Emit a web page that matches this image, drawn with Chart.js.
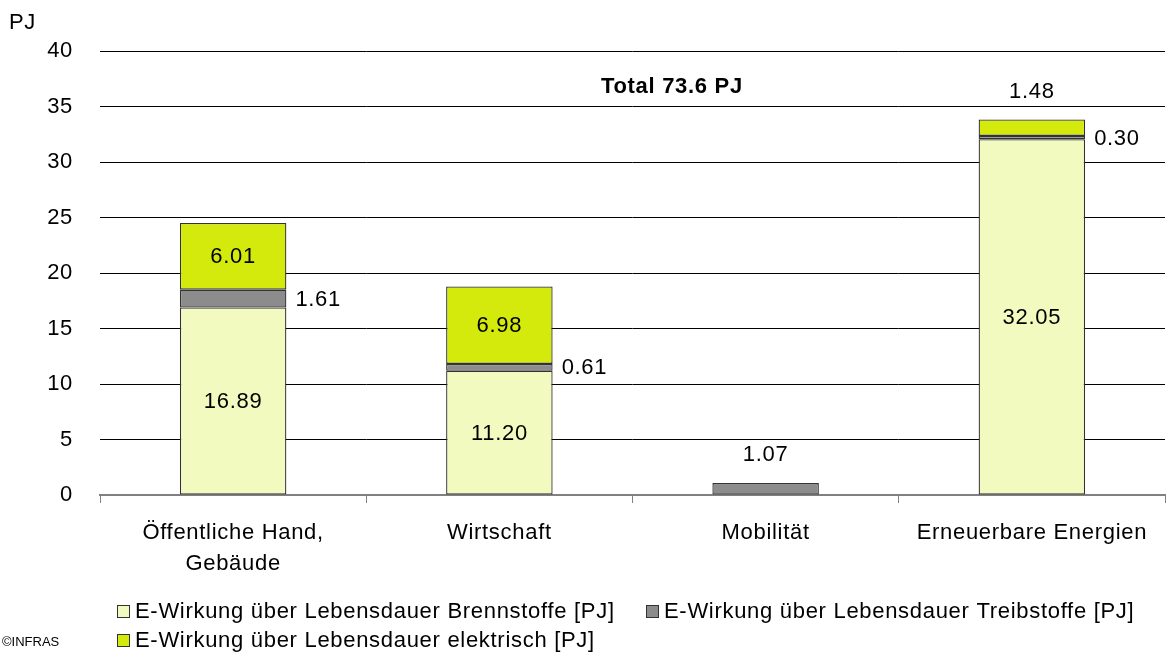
<!DOCTYPE html>
<html>
<head>
<meta charset="utf-8">
<script src="https://cdn.jsdelivr.net/npm/chart.js@4.4.1/dist/chart.umd.min.js"></script>
<style>
  html, body { margin: 0; padding: 0; background: #fff; }
  #wrap { width: 1175px; height: 657px; }
</style>
</head>
<body>
<div id="wrap"><canvas id="c" width="1175" height="657"></canvas></div>
<script>
const categories = [['Öffentliche Hand,', 'Gebäude'], 'Wirtschaft', 'Mobilität', 'Erneuerbare Energien'];
const brennstoffe = [16.89, 11.20, null, 32.05];
const treibstoffe = [1.61, 0.61, 1.07, 0.30];
const elektrisch = [6.01, 6.98, null, 1.48];
const seriesNames = [
  'E-Wirkung über Lebensdauer Brennstoffe [PJ]',
  'E-Wirkung über Lebensdauer Treibstoffe [PJ]',
  'E-Wirkung über Lebensdauer elektrisch [PJ]'
];
const yMin = 0, yMax = 40, yStep = 5;
const unitLabel = 'PJ';
const totalLabel = 'Total 73.6 PJ';
const creditLabel = '©INFRAS';

const FONT = "'Liberation Sans', Arial, sans-serif";
const SPACING = '0.7px';
const colors = ['#F2FAC0', '#8C8C8C', '#D4EA0C'];
const borderCol = '#333333';

const spacingPlugin = {
  id: 'spacing',
  beforeUpdate(chart) { chart.ctx.letterSpacing = SPACING; },
  beforeDraw(chart) { chart.ctx.letterSpacing = SPACING; }
};

const labelPlugin = {
  id: 'labels',
  afterDatasetsDraw(chart) {
    const ctx = chart.ctx;
    ctx.save();
    ctx.letterSpacing = SPACING;
    ctx.font = '22px ' + FONT;
    ctx.fillStyle = '#000';
    const n = chart.data.labels.length;
    for (let j = 0; j < n; j++) {
      let topIdx = -1;
      chart.data.datasets.forEach((ds, i) => { if (ds.data[j] != null) topIdx = i; });
      chart.data.datasets.forEach((ds, i) => {
        const v = ds.data[j];
        if (v == null) return;
        const el = chart.getDatasetMeta(i).data[j];
        const mid = (el.y + el.base) / 2;
        const txt = v.toFixed(2);
        if (v >= 3) {
          ctx.textAlign = 'center'; ctx.textBaseline = 'middle';
          ctx.fillText(txt, el.x, mid + 1);
        } else if (i === topIdx) {
          ctx.textAlign = 'center'; ctx.textBaseline = 'middle';
          ctx.fillText(txt, el.x, el.y - 28);
        } else {
          const x = el.x + el.width / 2 + 9;
          const w = ctx.measureText(txt).width;
          ctx.fillStyle = '#fff';
          ctx.fillRect(x - 3, mid - 12, w + 8, 24);
          ctx.fillStyle = '#000';
          ctx.textAlign = 'left'; ctx.textBaseline = 'middle';
          ctx.fillText(txt, x, mid + 1);
        }
      });
    }
    ctx.restore();
  }
};

const extrasPlugin = {
  id: 'extras',
  afterDraw(chart) {
    const ctx = chart.ctx;
    const ca = chart.chartArea;
    const ys = chart.scales.y;
    ctx.save();
    ctx.letterSpacing = SPACING;
    ctx.fillStyle = '#000';
    ctx.textBaseline = 'middle';
    ctx.font = '22px ' + FONT;
    ctx.textAlign = 'left';
    ctx.fillText(unitLabel, 9, 23);
    ctx.font = 'bold 22px ' + FONT;
    ctx.textAlign = 'center';
    ctx.fillText(totalLabel, ca.left + (ca.right - ca.left) * 0.537, ys.getPixelForValue(36.8));
    ctx.font = '22px ' + FONT;
    ctx.textAlign = 'left';
    const pos = [[117, 611], [646, 611], [117, 640]];
    chart.data.datasets.forEach((ds, i) => {
      const [bx, by] = pos[i];
      ctx.fillStyle = ds.backgroundColor;
      ctx.fillRect(bx, by - 6, 13, 13);
      ctx.strokeStyle = borderCol;
      ctx.lineWidth = 1;
      ctx.strokeRect(bx + 0.5, by - 5.5, 12, 12);
      ctx.fillStyle = '#000';
      ctx.fillText(ds.label, bx + 18, by + 1);
    });
    ctx.letterSpacing = '0px';
    ctx.font = '13px ' + FONT;
    ctx.fillText(creditLabel, 2, 642);
    ctx.restore();
  }
};

const datasets = [brennstoffe, treibstoffe, elektrisch].map((d, i) => ({
  label: seriesNames[i],
  data: d,
  backgroundColor: colors[i],
  borderColor: borderCol,
  borderWidth: 1.3,
  borderSkipped: false,
  categoryPercentage: 1.0,
  barPercentage: 0.4
}));

new Chart(document.getElementById('c'), {
  type: 'bar',
  data: { labels: categories, datasets },
  plugins: [spacingPlugin, labelPlugin, extrasPlugin],
  options: {
    responsive: false,
    devicePixelRatio: 1,
    animation: false,
    layout: { padding: { top: 51, right: 10, left: 0, bottom: 0 } },
    plugins: { legend: { display: false }, tooltip: { enabled: false } },
    scales: {
      x: {
        stacked: true,
        grid: { display: true, drawOnChartArea: false, drawTicks: true, tickLength: 8, color: '#808080', offset: true },
        border: { display: true, color: '#808080', width: 2 },
        ticks: { color: '#000', font: { family: FONT, size: 22, lineHeight: 1.42 }, padding: 14, maxRotation: 0, autoSkip: false },
        afterFit(s) { s.height = 162; }
      },
      y: {
        stacked: true,
        min: yMin, max: yMax,
        grid: { drawTicks: false, color: (c) => c.tick && c.tick.value === 0 ? '#808080' : '#000', lineWidth: 1 },
        border: { display: false },
        ticks: { stepSize: yStep, color: '#000', font: { family: FONT, size: 22 }, padding: 27 },
        afterFit(s) { s.width = 100; }
      }
    }
  }
});
</script>
</body>
</html>
